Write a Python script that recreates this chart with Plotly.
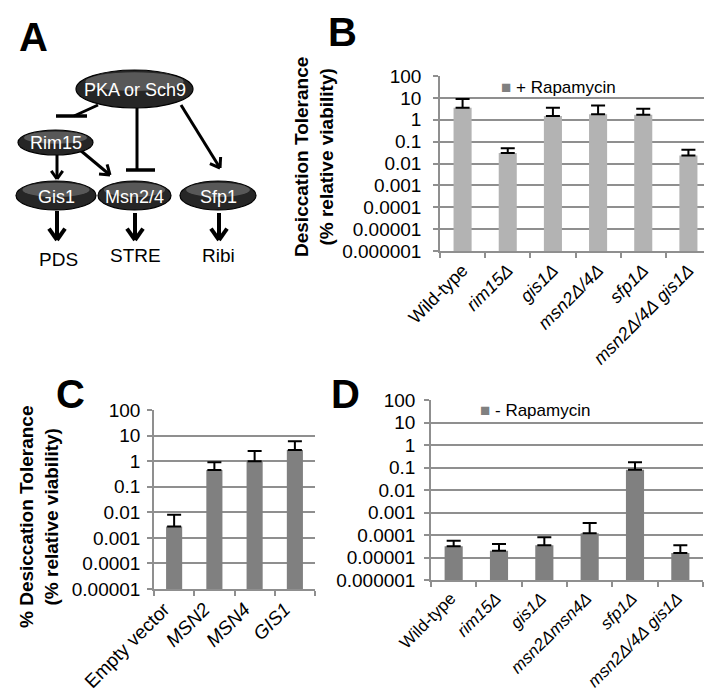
import math
import plotly.graph_objects as go

# ---------------- data ----------------
b_categories = ["Wild-type", "rim15Δ", "gis1Δ", "msn2Δ/4Δ", "sfp1Δ", "msn2Δ/4Δ gis1Δ"]
b_ticktext = ["Wild-type", "<i>rim15Δ</i>", "<i>gis1Δ</i>", "<i>msn2Δ/4Δ</i>", "<i>sfp1Δ</i>", "<i>msn2Δ/4Δ gis1Δ</i>"]
b_values = [3.5, 0.03, 1.5, 1.8, 1.7, 0.023]
b_err_top = [9.0, 0.05, 3.5, 4.5, 3.2, 0.043]

c_categories = ["Empty vector", "MSN2", "MSN4", "GIS1"]
c_ticktext = ["Empty vector", "<i>MSN2</i>", "<i>MSN4</i>", "<i>GIS1</i>"]
c_values = [0.0028, 0.45, 1.0, 2.7]
c_err_top = [0.008, 0.9, 2.5, 6.0]

d_categories = ["Wild-type", "rim15Δ", "gis1Δ", "msn2Δmsn4Δ", "sfp1Δ", "msn2Δ/4Δ gis1Δ"]
d_ticktext = ["Wild-type", "<i>rim15Δ</i>", "<i>gis1Δ</i>", "<i>msn2Δmsn4Δ</i>", "<i>sfp1Δ</i>", "<i>msn2Δ/4Δ gis1Δ</i>"]
d_values = [3.2e-5, 2.0e-5, 3.5e-5, 1.2e-4, 0.08, 1.6e-5]
d_err_top = [5.5e-5, 4.0e-5, 8.0e-5, 3.4e-4, 0.17, 3.5e-5]

y_tickvals_6 = [1e-6, 1e-5, 1e-4, 1e-3, 1e-2, 1e-1, 1, 10, 100]
y_ticktext_6 = ["0.000001", "0.00001", "0.0001", "0.001", "0.01", "0.1", "1", "10", "100"]
y_tickvals_5 = y_tickvals_6[1:]
y_ticktext_5 = y_ticktext_6[1:]

# ---------------- figure ----------------
W, H = 712, 695
FONT = "Liberation Sans, Arial, Helvetica, sans-serif"
GRID = "#8f8f8f"
LIGHT = "#b3b3b3"
DARK = "#808080"


def px_x(p):
    return p / W


def px_y(p):
    return 1 - p / H


fig = go.Figure()


def add_bars(cats, vals, tops, color, xa, ya):
    fig.add_trace(go.Bar(
        x=cats, y=vals, marker=dict(color=color, line=dict(width=0)), width=0.4,
        error_y=dict(type="data", symmetric=False,
                     array=[t - v for t, v in zip(tops, vals)],
                     arrayminus=[0] * len(vals),
                     color="black", thickness=2, width=7),
        xaxis=xa, yaxis=ya, showlegend=False, hoverinfo="skip"))


add_bars(b_categories, b_values, b_err_top, LIGHT, "x", "y")
add_bars(c_categories, c_values, c_err_top, DARK, "x2", "y2")
add_bars(d_categories, d_values, d_err_top, DARK, "x3", "y3")


def xaxis_cfg(dom, cats, ticktext, fs, anchor, shift=0):
    return dict(domain=dom, type="category", categoryorder="array", categoryarray=cats,
                range=[-0.5, len(cats) - 0.5], tickmode="array", tickvals=cats, ticktext=ticktext,
                tickangle=-45, tickfont=dict(family=FONT, size=fs, color="black"),
                ticklabelshift=shift,
                showline=True, linecolor=GRID, linewidth=1.5, ticks="outside",
                tickson="boundaries", ticklen=5, tickcolor=GRID, tickwidth=1.5,
                showgrid=False, zeroline=False, fixedrange=True, automargin=False,
                anchor=anchor)


def yaxis_cfg(dom, rng, tv, tt, anchor, standoff):
    return dict(domain=dom, type="log", range=rng, tickmode="array", tickvals=tv, ticktext=tt,
                tickfont=dict(family=FONT, size=19, color="black"),
                ticklabelstandoff=standoff,
                showline=True, linecolor=GRID, linewidth=1.5, ticks="outside",
                ticklen=5, tickcolor=GRID, tickwidth=1.5,
                showgrid=True, gridcolor=GRID, gridwidth=1.5, zeroline=False,
                anchor=anchor, fixedrange=True, automargin=False)


fig.update_layout(
    width=W, height=H, autosize=False, margin=dict(l=0, r=0, t=0, b=0, pad=0),
    paper_bgcolor="white", plot_bgcolor="rgba(0,0,0,0)",
    font=dict(family=FONT, color="black"),
    xaxis=xaxis_cfg([px_x(432), px_x(703)], b_categories, b_ticktext, 18, "y"),
    yaxis=yaxis_cfg([px_y(243), px_y(68)], [-6, 2], y_tickvals_6, y_ticktext_6, "x", 8),
    xaxis2=xaxis_cfg([px_x(146), px_x(307)], c_categories, c_ticktext, 19, "y2", -10),
    yaxis2=yaxis_cfg([px_y(581), px_y(402)], [-5, 2], y_tickvals_5, y_ticktext_5, "x2", 3),
    xaxis3=xaxis_cfg([px_x(423), px_x(695)], d_categories, d_ticktext, 17, "y3", -3),
    yaxis3=yaxis_cfg([px_y(572), px_y(392)], [-6, 2], y_tickvals_6, y_ticktext_6, "x3", 5),
)

shapes = []
annotations = []


def txt(x, y, s, size, bold=False, color="black", angle=0, xanchor="center"):
    annotations.append(dict(x=px_x(x), y=px_y(y), xref="paper", yref="paper",
                            text=("<b>%s</b>" % s) if bold else s,
                            showarrow=False, textangle=angle, xanchor=xanchor, yanchor="middle",
                            font=dict(family=FONT, size=size, color=color)))


# panel letters
txt(25, 29, "A", 40, bold=True)
txt(334, 24, "B", 40, bold=True)
txt(63, 386, "C", 40, bold=True)
txt(337, 386, "D", 40, bold=True)

# axis titles
txt(306, 149, "Desiccation Tolerance<br>(% relative viability)", 19, bold=True, angle=-90)
txt(31, 509, "% Desiccation Tolerance<br>(% relative viability)", 19, bold=True, angle=-90)

# legends
txt(491, 79, "<span style='color:%s'>■</span> + Rapamycin" % DARK, 17, xanchor="left")
txt(470, 402, "<span style='color:%s'>■</span> - Rapamycin" % DARK, 17, xanchor="left")


# ---------------- panel A diagram ----------------
def P(x, y):
    return px_x(x), px_y(y)


def ellipse(x0, y0, x1, y1, label):
    a, b = P(x0, y0)
    c, d = P(x1, y1)
    shapes.append(dict(type="circle", xref="paper", yref="paper", x0=a, y0=d, x1=c, y1=b,
                       fillcolor="#262626", line=dict(color="#000000", width=1.2), layer="above"))
    h = y1 - y0
    w = x1 - x0
    a, b = P(x0 + w * 0.08, y0 + h * 0.06)
    c, d = P(x1 - w * 0.08, y0 + h * 0.55)
    shapes.append(dict(type="circle", xref="paper", yref="paper", x0=a, y0=d, x1=c, y1=b,
                       fillcolor="rgba(150,150,150,0.45)", line=dict(width=0), layer="above"))
    txt((x0 + x1) / 2, (y0 + y1) / 2 + 1, label, 18, color="white")


def seg(x0, y0, x1, y1, w=3):
    a, b = P(x0, y0)
    c, d = P(x1, y1)
    shapes.append(dict(type="line", xref="paper", yref="paper", x0=a, y0=b, x1=c, y1=d,
                       line=dict(color="black", width=w), layer="above"))


def arrow(x0, y0, x1, y1, w=3, head=10):
    seg(x0, y0, x1, y1, w)
    ang = math.atan2(y1 - y0, x1 - x0)
    for s in (1, -1):
        a = ang + math.pi + s * math.radians(35)
        seg(x1, y1, x1 + head * math.cos(a), y1 + head * math.sin(a), w)


# edges
arrow(173, 97, 212, 160, 3, 11)          # PKA -> Sfp1
arrow(72, 142, 102, 167, 3, 11)          # Rim15 -> Msn2/4
arrow(49, 147, 49, 171, 3, 10)           # Rim15 -> Gis1
seg(129, 100, 129, 162, 3)               # PKA -| Msn2/4
seg(118, 162, 147, 162, 3.5)
seg(90, 97, 66, 108, 3)                  # PKA -| Rim15
seg(48, 108, 79, 108, 3.5)
arrow(49, 203, 49, 232, 4, 14)           # Gis1 -> PDS
arrow(127, 205, 127, 232, 4, 14)         # Msn2/4 -> STRE
arrow(211, 205, 211, 232, 4, 14)         # Sfp1 -> Ribi

ellipse(68, 62, 185, 100, "PKA or Sch9")
ellipse(10, 122, 85, 147, "Rim15")
ellipse(8, 173, 88, 202, "Gis1")
ellipse(90, 173, 163, 202, "Msn2/4")
ellipse(172, 173, 248, 202, "Sfp1")

txt(51, 251, "PDS", 19)
txt(127, 248, "STRE", 19)
txt(210, 248, "Ribi", 19)

fig.update_layout(shapes=shapes, annotations=annotations)

fig.write_html("out.html")
